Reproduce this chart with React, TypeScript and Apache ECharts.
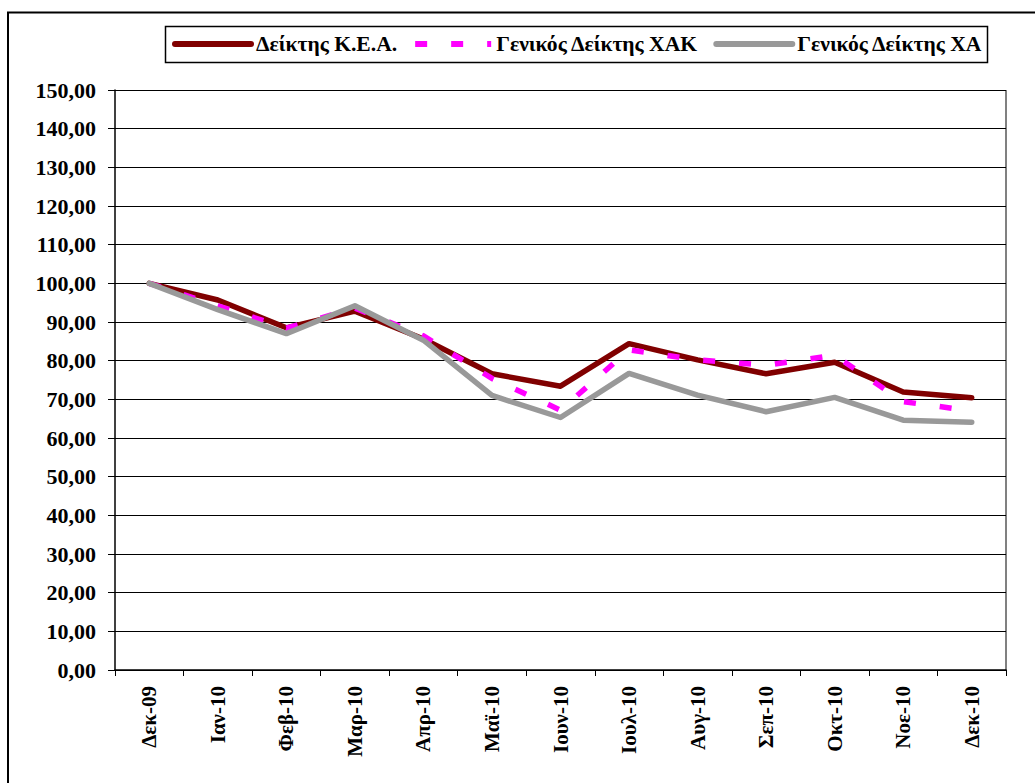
import React, { useEffect, useRef } from "react";
import * as echarts from "echarts";

const categories = ["Δεκ-09", "Ιαν-10", "Φεβ-10", "Μαρ-10", "Απρ-10", "Μαϊ-10", "Ιουν-10", "Ιουλ-10", "Αυγ-10", "Σεπ-10", "Οκτ-10", "Νοε-10", "Δεκ-10"];
const keaValues = [100, 95.7, 88.5, 92.8, 85.6, 76.6, 73.4, 84.4, 80.2, 76.6, 79.6, 71.9, 70.4];
const xakValues = [100, 94.2, 88.4, 93.6, 86.4, 75.4, 67.2, 82.8, 80.2, 78.8, 81.4, 69.4, 67.0];
const xaValues = [100, 93.2, 87.0, 94.2, 85.3, 71.0, 65.3, 76.7, 71.1, 66.8, 70.5, 64.6, 64.1];
const seriesNames = ["Δείκτης Κ.Ε.Α.", "Γενικός Δείκτης ΧΑΚ", "Γενικός Δείκτης ΧΑ"];

const FONT = "Times New Roman, Liberation Serif, serif";

export default function App() {
  const ref = useRef<HTMLDivElement>(null);
  useEffect(() => {
    if (!ref.current) return;
    const chart = echarts.init(ref.current, undefined, { renderer: "svg" });
    chart.setOption({
      animation: false,
      backgroundColor: "#ffffff",
      textStyle: { fontFamily: FONT },
      grid: { left: 115, right: 29, top: 90, bottom: 113, containLabel: false },
      legend: {
        left: 172,
        top: 33,
        padding: 0,
        itemWidth: 76,
        itemHeight: 14,
        itemGap: 15,
        itemStyle: { opacity: 0, borderWidth: 0 },
        lineStyle: { width: 6 },
        textStyle: { fontFamily: FONT, fontWeight: "bold", fontSize: 21.6, color: "#000" },
        data: seriesNames,
      },
      xAxis: {
        type: "category",
        data: categories,
        boundaryGap: true,
        axisLine: { lineStyle: { color: "#000", width: 1.5 } },
        axisTick: { show: true, length: 6, interval: 0, lineStyle: { color: "#000" } },
        axisLabel: {
          rotate: 90,
          interval: 0,
          margin: 16,
          fontFamily: FONT,
          fontWeight: "bold",
          fontSize: 21,
          color: "#000",
        },
        splitLine: { show: false },
      },
      yAxis: {
        type: "value",
        min: 0,
        max: 150,
        interval: 10,
        axisLine: { show: true, lineStyle: { color: "#000", width: 1.5 } },
        axisTick: { show: true, length: 7, lineStyle: { color: "#000" } },
        axisLabel: {
          margin: 19,
          fontFamily: FONT,
          fontWeight: "bold",
          fontSize: 22,
          color: "#000",
          formatter: (v: number) => v.toFixed(2).replace(".", ","),
        },
        splitLine: { show: true, lineStyle: { color: "#000", width: 1 } },
      },
      graphic: [
        {
          type: "rect",
          shape: { x: 8, y: 12.5, width: 1100, height: 900 },
          style: { fill: "none", stroke: "#000", lineWidth: 2 },
          silent: true,
        },
        {
          type: "rect",
          shape: { x: 165.5, y: 26.5, width: 822, height: 36 },
          style: { fill: "none", stroke: "#000", lineWidth: 1.5 },
          silent: true,
        },
        {
          type: "line",
          shape: { x1: 1006, y1: 90, x2: 1006, y2: 670 },
          style: { stroke: "#808080", lineWidth: 2 },
          silent: true,
        },
      ],
      series: [
        {
          name: seriesNames[0],
          type: "line",
          data: keaValues,
          symbol: "none",
          z: 3,
          itemStyle: { color: "#800000" },
          lineStyle: { color: "#800000", width: 5.5, cap: "round", join: "round" },
        },
        {
          name: seriesNames[1],
          type: "line",
          data: xakValues,
          symbol: "none",
          z: 4,
          itemStyle: { color: "#FF00FF" },
          lineStyle: { color: "#FF00FF", width: 5.5, type: [12, 24], cap: "butt" },
        },
        {
          name: seriesNames[2],
          type: "line",
          data: xaValues,
          symbol: "none",
          z: 5,
          itemStyle: { color: "#999999" },
          lineStyle: { color: "#999999", width: 5.5, cap: "round", join: "round" },
        },
      ],
    });
    return () => chart.dispose();
  }, []);
  return (
    <div
      ref={ref}
      style={{ position: "absolute", left: 0, top: 0, width: 1035, height: 783 }}
    />
  );
}
